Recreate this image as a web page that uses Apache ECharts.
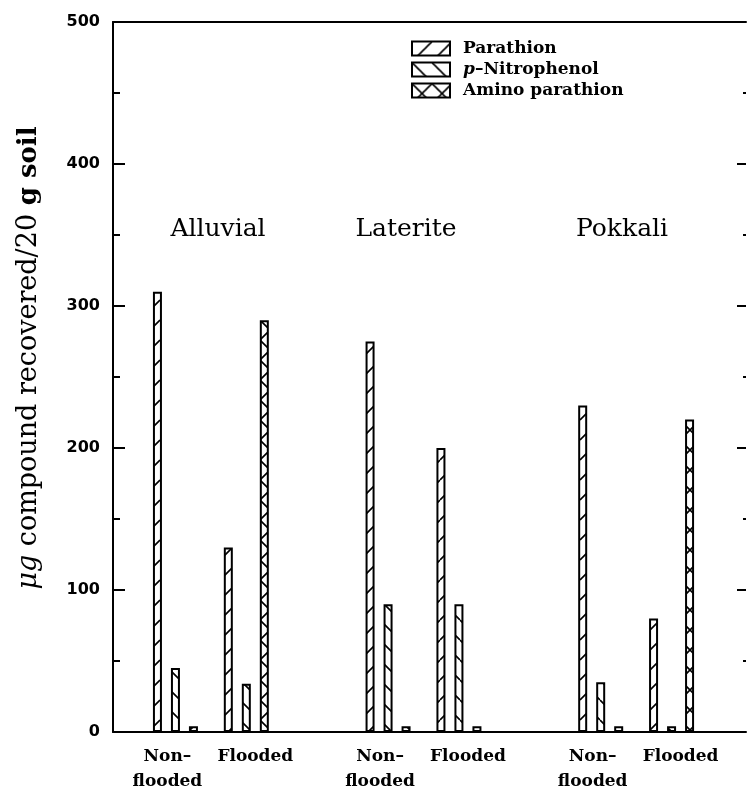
<!DOCTYPE html>
<html>
<head>
<meta charset="utf-8">
<script src="https://cdn.jsdelivr.net/npm/echarts@6/dist/echarts.min.js"></script>
<style>
  html, body { margin: 0; padding: 0; background: #fff; }
  #chart { width: 747px; height: 791px; }
</style>
</head>
<body>
<div id="chart"></div>
<script>
// ---- data ----
const soils = ['Alluvial', 'Laterite', 'Pokkali'];
const conditions = ['Non–\nflooded', 'Flooded'];
const seriesNames = ['Parathion', 'p-Nitrophenol', 'Amino parathion'];
// values per soil x condition: [Alluvial NF, Alluvial F, Laterite NF, Laterite F, Pokkali NF, Pokkali F]
const parathion   = [310, 130, 275, 200, 230, 80];
const nitrophenol = [45, 34, 90, 90, 35, 4];
const amino       = [4, 290, 4, 4, 4, 220];
const yTicks = [0, 100, 200, 300, 400, 500];

// ---- layout (not data) ----
const soilTitlePos = [[218, 229], [406, 229], [622, 229]];

// build category slots with an empty slot between soils
const categories = [];
soils.forEach((s, i) => {
  conditions.forEach(c => categories.push(c));
  if (i < soils.length - 1) categories.push('');
});
function spread(vals) {
  const out = [];
  soils.forEach((s, i) => {
    conditions.forEach((c, j) => out.push(vals[i * conditions.length + j]));
    if (i < soils.length - 1) out.push(null);
  });
  return out;
}

function hatch(kind, size) {
  const c = document.createElement('canvas');
  c.width = size; c.height = size;
  const ctx = c.getContext('2d');
  ctx.fillStyle = '#fff';
  ctx.fillRect(0, 0, size, size);
  ctx.strokeStyle = '#000';
  ctx.lineWidth = 1.6;
  ctx.beginPath();
  for (let o = -size; o <= size; o += size) {
    if (kind === 'f' || kind === 'x') { ctx.moveTo(o, size); ctx.lineTo(o + size, 0); }
    if (kind === 'b' || kind === 'x') { ctx.moveTo(o, 0); ctx.lineTo(o + size, size); }
  }
  ctx.stroke();
  return c;
}
const patterns = [
  { image: hatch('f', 20), repeat: 'repeat' },
  { image: hatch('b', 20), repeat: 'repeat' },
  { image: hatch('x', 20), repeat: 'repeat' }
];
const valueSets = [parathion, nitrophenol, amino];

const chart = echarts.init(document.getElementById('chart'), null, { renderer: 'canvas' });
const serif = 'DejaVu Serif';
const frameLine = { show: true, onZero: false, lineStyle: { color: '#000', width: 2 } };

const option = {
  backgroundColor: '#fff',
  animation: false,
  legend: {
    orient: 'vertical',
    left: 406,
    top: 35,
    icon: 'rect',
    itemWidth: 38,
    itemHeight: 14,
    itemGap: 4,
    data: seriesNames,
    formatter: function (name) {
      if (name === 'p-Nitrophenol') return '{i|p}{t|–Nitrophenol}';
      return '{t|' + name + '}';
    },
    textStyle: {
      padding: [0, 0, 0, 8],
      rich: {
        i: { fontFamily: serif, fontStyle: 'italic', fontWeight: 'bold', fontSize: 17, color: '#000' },
        t: { fontFamily: serif, fontWeight: 'bold', fontSize: 17, color: '#000' }
      }
    }
  },
  grid: [
    { left: 113, top: 22, width: 633, height: 710 },
    { left: 140, top: 22, width: 567, height: 710 }
  ],
  xAxis: [
    { gridIndex: 0, type: 'value', min: 0, max: 1, position: 'bottom',
      axisLine: frameLine,
      axisTick: { show: false }, axisLabel: { show: false }, splitLine: { show: false } },
    { gridIndex: 0, type: 'value', min: 0, max: 1, position: 'top',
      axisLine: frameLine,
      axisTick: { show: false }, axisLabel: { show: false }, splitLine: { show: false } },
    { gridIndex: 1, type: 'category', data: categories,
      axisLine: { show: false }, axisTick: { show: false }, splitLine: { show: false },
      axisLabel: {
        interval: 0, margin: 12,
        formatter: function (v) {
          if (!v) return '';
          const lines = v.split('\n');
          const st = lines.length > 1 ? 'a' : 'b';
          return lines.map(l => '{' + st + '|' + l + '}').join('\n');
        },
        rich: {
          a: { fontFamily: serif, fontWeight: 'bold', fontSize: 17, color: '#000', lineHeight: 25, padding: [0, 16, 0, 0] },
          b: { fontFamily: serif, fontWeight: 'bold', fontSize: 17, color: '#000', lineHeight: 25, padding: [0, 0, 0, 18] }
        }
      } }
  ],
  yAxis: [
    { gridIndex: 0, type: 'value', position: 'left', min: yTicks[0], max: yTicks[yTicks.length - 1], interval: 100,
      axisLine: frameLine,
      axisTick: { show: true, inside: true, length: 12, lineStyle: { color: '#000', width: 2 } },
      minorTick: { show: true, splitNumber: 2, length: 7, lineStyle: { color: '#000', width: 2 } },
      splitLine: { show: false },
      axisLabel: { margin: 13, fontFamily: 'DejaVu Sans', fontWeight: 'bold', fontSize: 16, color: '#000' } },
    { gridIndex: 0, type: 'value', position: 'right', min: yTicks[0], max: yTicks[yTicks.length - 1], interval: 100,
      axisLine: { show: true, onZero: false, lineStyle: { color: '#000', width: 2, opacity: 0 } },
      axisTick: { show: true, inside: true, length: 9, lineStyle: { color: '#000', width: 2 } },
      minorTick: { show: true, splitNumber: 2, length: 3, lineStyle: { color: '#000', width: 2 } },
      splitLine: { show: false }, axisLabel: { show: false } },
    { gridIndex: 1, type: 'value', min: yTicks[0], max: yTicks[yTicks.length - 1], show: false }
  ],
  series: seriesNames.map((name, k) => ({
    name: name,
    type: 'bar',
    xAxisIndex: 2,
    yAxisIndex: 2,
    barWidth: 9,
    barGap: '100%',
    data: spread(valueSets[k]),
    itemStyle: { color: patterns[k], borderColor: '#000', borderWidth: 2 },
    emphasis: { disabled: true }
  })),
  graphic: [
    ...soils.map((s, i) => ({
      type: 'text', x: soilTitlePos[i][0], y: soilTitlePos[i][1],
      style: { text: s, fontFamily: serif, fontSize: 25, fill: '#000', align: 'center', verticalAlign: 'middle' }
    })),
    {
      type: 'text', x: 29, y: 358, rotation: Math.PI / 2,
      style: {
        text: '{i|μg}{r| compound recovered/20 }{b|g soil}',
        align: 'center', verticalAlign: 'middle',
        rich: {
          i: { fontFamily: serif, fontStyle: 'italic', fontSize: 27, fill: '#000' },
          r: { fontFamily: serif, fontSize: 27, fill: '#000' },
          b: { fontFamily: serif, fontWeight: 'bold', fontSize: 26, fill: '#000' }
        }
      }
    }
  ]
};
chart.setOption(option);
</script>
</body>
</html>
